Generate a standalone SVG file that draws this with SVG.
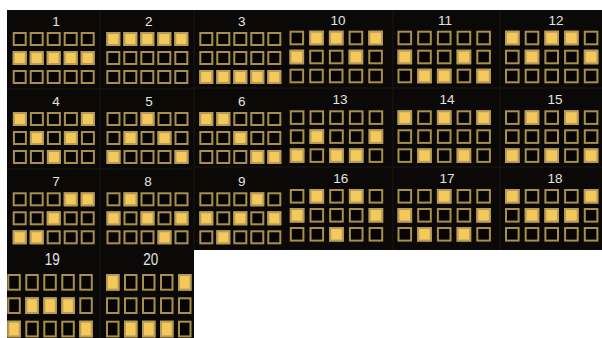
<svg xmlns="http://www.w3.org/2000/svg" xmlns:xlink="http://www.w3.org/1999/xlink" width="602" height="338" viewBox="0 0 602 338">
<style>
.e{fill:#060504;stroke:#a88f4e;stroke-width:2}
.f{fill:#f4c95c;stroke:#b89b56;stroke-width:2}
.lbl{font-family:"Liberation Sans",Arial,sans-serif;font-size:13.5px;fill:#e4e4e4;text-anchor:middle}
.sep{stroke:#16130f;stroke-width:1.5;fill:none}
</style>
<defs>
<rect id="eL" class="e" x="1" y="1" width="12" height="12"/>
<rect id="fL" class="f" x="1" y="1" width="12" height="12"/>
<rect id="eR" class="e" x="1" y="1" width="12.6" height="12.6"/>
<rect id="fR" class="f" x="1" y="1" width="12.6" height="12.6"/>
<rect id="eD" class="e" x="1" y="1" width="11.5" height="14.7"/>
<rect id="fD" class="f" x="1" y="1" width="11.5" height="14.7"/>
<g id="rowL"><use href="#eL" x="0"/><use href="#eL" x="17"/><use href="#eL" x="34"/><use href="#eL" x="51"/><use href="#eL" x="68"/></g>
<g id="gridL"><use href="#rowL" y="0"/><use href="#rowL" y="19"/><use href="#rowL" y="38"/></g>
<g id="rowR"><use href="#eR" x="0"/><use href="#eR" x="19.7"/><use href="#eR" x="39.4"/><use href="#eR" x="59.1"/><use href="#eR" x="78.8"/></g>
<g id="gridR"><use href="#rowR" y="0"/><use href="#rowR" y="19"/><use href="#rowR" y="38"/></g>
<g id="rowD"><use href="#eD" x="0"/><use href="#eD" x="18"/><use href="#eD" x="36"/><use href="#eD" x="54"/><use href="#eD" x="72"/></g>
<g id="gridD"><use href="#rowD" y="0"/><use href="#rowD" y="23.3"/><use href="#rowD" y="46.7"/></g>
</defs>
<rect width="602" height="338" fill="#ffffff"/>
<path id="background" d="M7,10 H602 V250 H194 V338 H7 Z" fill="#0a0907"/>
<g id="separators" class="sep">
<path d="M100,10 V250 M194,10 V250 M393,10 V250 M500,10 V250 M7,89 H194 M7,169 H194 M194,88 H602 M194,167 H602 M100,250 V338"/>
</g>
<g id="p1"><text class="lbl" x="56" y="26">1</text><g transform="translate(12.7,32)"><use href="#gridL"/><use href="#fL" x="0" y="19"/><use href="#fL" x="17" y="19"/><use href="#fL" x="34" y="19"/><use href="#fL" x="51" y="19"/><use href="#fL" x="68" y="19"/></g></g>
<g id="p2"><text class="lbl" x="148.7" y="26">2</text><g transform="translate(106.3,32)"><use href="#gridL"/><use href="#fL" x="0" y="0"/><use href="#fL" x="17" y="0"/><use href="#fL" x="34" y="0"/><use href="#fL" x="51" y="0"/><use href="#fL" x="68" y="0"/></g></g>
<g id="p3"><text class="lbl" x="241.7" y="26">3</text><g transform="translate(199.3,32)"><use href="#gridL"/><use href="#fL" x="0" y="38"/><use href="#fL" x="17" y="38"/><use href="#fL" x="34" y="38"/><use href="#fL" x="51" y="38"/><use href="#fL" x="68" y="38"/></g></g>
<g id="p4"><text class="lbl" x="56" y="105.5">4</text><g transform="translate(12.9,112)"><use href="#gridL"/><use href="#fL" x="0" y="0"/><use href="#fL" x="68" y="0"/><use href="#fL" x="17" y="19"/><use href="#fL" x="51" y="19"/><use href="#fL" x="34" y="38"/></g></g>
<g id="p5"><text class="lbl" x="149" y="105.5">5</text><g transform="translate(106.5,112)"><use href="#gridL"/><use href="#fL" x="34" y="0"/><use href="#fL" x="17" y="19"/><use href="#fL" x="51" y="19"/><use href="#fL" x="0" y="38"/><use href="#fL" x="68" y="38"/></g></g>
<g id="p6"><text class="lbl" x="241.7" y="105.5">6</text><g transform="translate(199.3,112)"><use href="#gridL"/><use href="#fL" x="0" y="0"/><use href="#fL" x="17" y="0"/><use href="#fL" x="34" y="19"/><use href="#fL" x="51" y="38"/><use href="#fL" x="68" y="38"/></g></g>
<g id="p7"><text class="lbl" x="56" y="185.5">7</text><g transform="translate(12.7,192.3)"><use href="#gridL"/><use href="#fL" x="51" y="0"/><use href="#fL" x="68" y="0"/><use href="#fL" x="34" y="19"/><use href="#fL" x="0" y="38"/><use href="#fL" x="17" y="38"/></g></g>
<g id="p8"><text class="lbl" x="148" y="185.5">8</text><g transform="translate(106.5,192.3)"><use href="#gridL"/><use href="#fL" x="17" y="0"/><use href="#fL" x="0" y="19"/><use href="#fL" x="34" y="19"/><use href="#fL" x="68" y="19"/><use href="#fL" x="51" y="38"/></g></g>
<g id="p9"><text class="lbl" x="241.7" y="185.5">9</text><g transform="translate(199.3,192.3)"><use href="#gridL"/><use href="#fL" x="51" y="0"/><use href="#fL" x="0" y="19"/><use href="#fL" x="34" y="19"/><use href="#fL" x="68" y="19"/><use href="#fL" x="17" y="38"/></g></g>
<g id="p10"><text class="lbl" x="338" y="24.5">10</text><g transform="translate(289.5,30.7)"><use href="#gridR"/><use href="#fR" x="19.7" y="0"/><use href="#fR" x="39.4" y="0"/><use href="#fR" x="78.8" y="0"/><use href="#fR" x="0" y="19"/><use href="#fR" x="59.1" y="19"/></g></g>
<g id="p11"><text class="lbl" x="445" y="25">11</text><g transform="translate(397.5,30.7)"><use href="#gridR"/><use href="#fR" x="0" y="19"/><use href="#fR" x="59.1" y="19"/><use href="#fR" x="19.7" y="38"/><use href="#fR" x="39.4" y="38"/><use href="#fR" x="78.8" y="38"/></g></g>
<g id="p12"><text class="lbl" x="556" y="25">12</text><g transform="translate(505,30.7)"><use href="#gridR"/><use href="#fR" x="0" y="0"/><use href="#fR" x="39.4" y="0"/><use href="#fR" x="59.1" y="0"/><use href="#fR" x="19.7" y="19"/><use href="#fR" x="78.8" y="19"/></g></g>
<g id="p13"><text class="lbl" x="340" y="103.5">13</text><g transform="translate(289.8,110.3)"><use href="#gridR"/><use href="#fR" x="19.7" y="19"/><use href="#fR" x="78.8" y="19"/><use href="#fR" x="0" y="38"/><use href="#fR" x="39.4" y="38"/><use href="#fR" x="59.1" y="38"/></g></g>
<g id="p14"><text class="lbl" x="447" y="103.5">14</text><g transform="translate(397.5,110.3)"><use href="#gridR"/><use href="#fR" x="0" y="0"/><use href="#fR" x="39.4" y="0"/><use href="#fR" x="78.8" y="0"/><use href="#fR" x="19.7" y="38"/><use href="#fR" x="59.1" y="38"/></g></g>
<g id="p15"><text class="lbl" x="555" y="103.5">15</text><g transform="translate(505,110.3)"><use href="#gridR"/><use href="#fR" x="19.7" y="0"/><use href="#fR" x="59.1" y="0"/><use href="#fR" x="0" y="38"/><use href="#fR" x="39.4" y="38"/><use href="#fR" x="78.8" y="38"/></g></g>
<g id="p16"><text class="lbl" x="340.7" y="182.5">16</text><g transform="translate(289.8,189)"><use href="#gridR"/><use href="#fR" x="19.7" y="0"/><use href="#fR" x="59.1" y="0"/><use href="#fR" x="0" y="19"/><use href="#fR" x="78.8" y="19"/><use href="#fR" x="39.4" y="38"/></g></g>
<g id="p17"><text class="lbl" x="447" y="182.5">17</text><g transform="translate(397.5,189)"><use href="#gridR"/><use href="#fR" x="39.4" y="0"/><use href="#fR" x="0" y="19"/><use href="#fR" x="78.8" y="19"/><use href="#fR" x="19.7" y="38"/><use href="#fR" x="59.1" y="38"/></g></g>
<g id="p18"><text class="lbl" x="555" y="182.5">18</text><g transform="translate(505,189)"><use href="#gridR"/><use href="#fR" x="0" y="0"/><use href="#fR" x="78.8" y="0"/><use href="#fR" x="19.7" y="19"/><use href="#fR" x="39.4" y="19"/><use href="#fR" x="59.1" y="19"/></g></g>
<g id="p19"><text class="lbl" transform="translate(52.3,265) scale(1,1.2)">19</text><g transform="translate(7.3,274)"><use href="#gridD"/><use href="#fD" x="18" y="23.3"/><use href="#fD" x="36" y="23.3"/><use href="#fD" x="54" y="23.3"/><use href="#fD" x="0" y="46.7"/><use href="#fD" x="72" y="46.7"/></g></g>
<g id="p20"><text class="lbl" transform="translate(150.7,265) scale(1,1.2)">20</text><g transform="translate(106,274)"><use href="#gridD"/><use href="#fD" x="0" y="0"/><use href="#fD" x="72" y="0"/><use href="#fD" x="18" y="46.7"/><use href="#fD" x="36" y="46.7"/><use href="#fD" x="54" y="46.7"/></g></g>
</svg>
